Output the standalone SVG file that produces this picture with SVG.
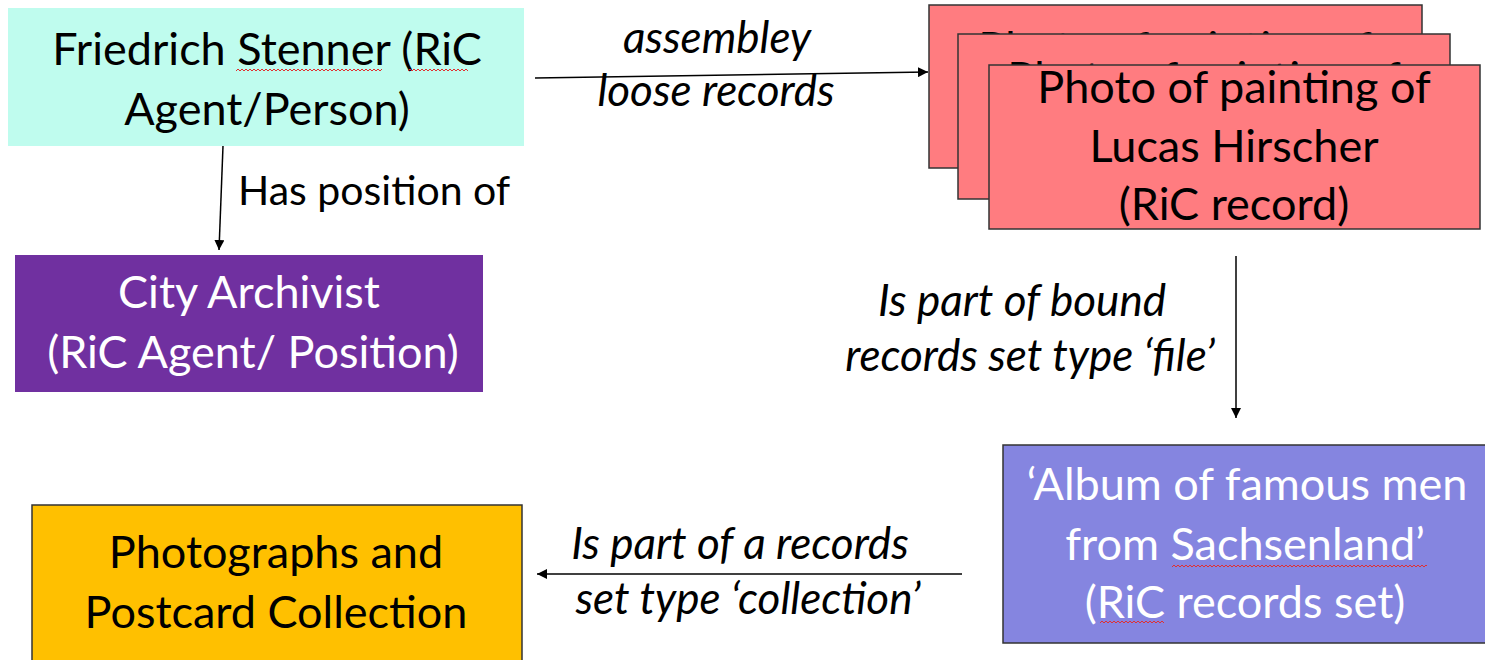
<svg xmlns="http://www.w3.org/2000/svg" width="1485" height="660" viewBox="0 0 1485 660">
<style>
  .t { font-family: Lato, "Open Sans", "Liberation Sans", sans-serif; font-size: 45px; text-anchor: middle; fill: #000; }
  .w { fill: #fff; }
  .lbl { font-family: Lato, "Open Sans", "Liberation Sans", sans-serif; font-size: 41px; fill: #000; }
  .it { font-style: italic; text-anchor: middle; font-size: 44px; }
  .box { stroke: #333; stroke-width: 1.5; }
  .conn { stroke: #000; stroke-width: 1.5; fill: none; marker-end: url(#ah); }
</style>
<defs>
  <marker id="ah" viewBox="0 0 10 10" refX="10" refY="5" markerWidth="10" markerHeight="10" markerUnits="userSpaceOnUse" orient="auto">
    <path d="M0,0 L10,5 L0,10 Z" fill="#000"/>
  </marker>
  <pattern id="wave" width="4" height="4" patternUnits="userSpaceOnUse">
    <path d="M0,3 L2,1 L4,3" fill="none" stroke="#e03030" stroke-width="1"/>
  </pattern>
</defs>
<rect width="1485" height="660" fill="#fff"/>

<g id="connectors">
  <line class="conn" x1="535" y1="78" x2="928" y2="72"/>
  <line class="conn" x1="223" y1="146" x2="219" y2="250"/>
  <line class="conn" x1="1236" y1="256" x2="1236" y2="418"/>
  <line class="conn" x1="962" y1="574" x2="537" y2="574"/>
  <text class="lbl it" x="717" y="53">assembley</text>
  <text class="lbl it" x="716" y="106">loose records</text>
  <text class="lbl" x="238" y="205">Has position of</text>
  <text class="lbl it" x="1022" y="316">Is part of bound</text>
  <text class="lbl it" x="1030" y="371">records set type ‘file’</text>
  <text class="lbl it" x="740" y="559">Is part of a records</text>
  <text class="lbl it" x="748" y="614">set type ‘collection’</text>
</g>

<g id="node-friedrich">
  <rect x="8" y="8" width="516" height="138" fill="#BFFCEE"/>
  <text class="t" x="267" y="65">Friedrich Stenner (RiC</text>
  <text class="t" x="267" y="125">Agent/Person)</text>
  <rect x="236" y="68" width="146" height="4" fill="url(#wave)"/>
  <rect x="408" y="68" width="60" height="4" fill="url(#wave)"/>
</g>

<g id="node-archivist">
  <rect x="15" y="255" width="468" height="137" fill="#7030A0"/>
  <text class="t w" x="249" y="308">City Archivist</text>
  <text class="t w" x="253" y="368">(RiC Agent/ Position)</text>
</g>

<g id="node-record">
  <rect class="box" x="929" y="5" width="493" height="163" fill="#FF7C80"/>
  <text class="t" x="1175" y="64">Photo of painting of</text>
  <rect class="box" x="958" y="34" width="492" height="165" fill="#FF7C80"/>
  <text class="t" x="1204" y="94">Photo of painting of</text>
  <rect class="box" x="989" y="65" width="491" height="164" fill="#FF7C80"/>
  <text class="t" x="1234" y="103">Photo of painting of</text>
  <text class="t" x="1234" y="162">Lucas Hirscher</text>
  <text class="t" x="1234" y="220">(RiC record)</text>
</g>

<g id="node-album">
  <rect class="box" x="1003" y="445" width="484" height="198" fill="#8585E0"/>
  <text class="t w" x="1247" y="500">‘Album of famous men</text>
  <text class="t w" x="1245" y="560">from Sachsenland’</text>
  <text class="t w" x="1245" y="618">(RiC records set)</text>
  <rect x="1172" y="563" width="255" height="4" fill="url(#wave)"/>
  <rect x="1100" y="621" width="64" height="4" fill="url(#wave)"/>
</g>

<g id="node-collection">
  <rect class="box" x="32" y="505" width="490" height="160" fill="#FFC000"/>
  <text class="t" x="276" y="568">Photographs and</text>
  <text class="t" x="276" y="628">Postcard Collection</text>
</g>
</svg>
